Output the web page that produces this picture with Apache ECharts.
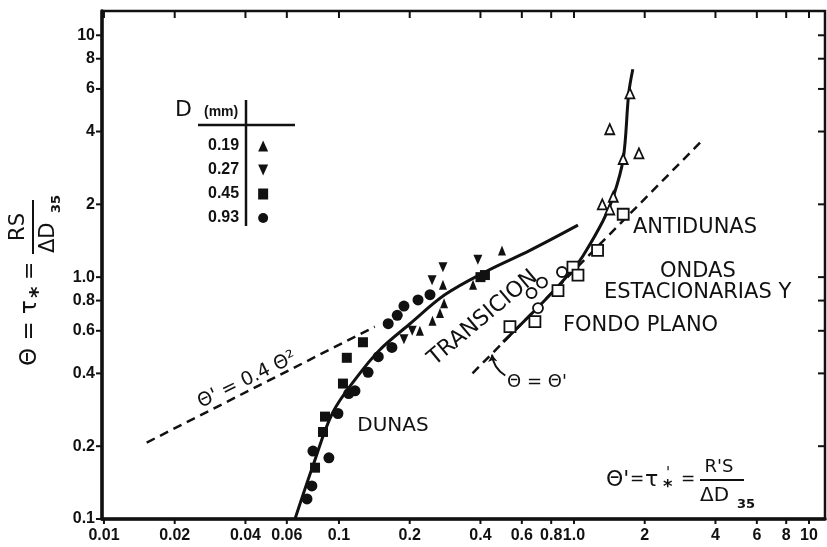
<!DOCTYPE html>
<html>
<head>
<meta charset="utf-8">
<script src="https://cdn.jsdelivr.net/npm/echarts@6/dist/echarts.min.js"></script>
<style>
  html, body { margin: 0; padding: 0; background: #fff; }
  #chart { width: 827px; height: 547px; }
</style>
</head>
<body>
<div id="chart"></div>
<script>
// Axis extents (log-log)
const X_MIN = 0.00981, X_MAX = 11.7;
const Y_MIN = 0.1, Y_MAX = 12.6;

// Tick values and their printed labels
const xTicks = [0.01, 0.02, 0.04, 0.06, 0.1, 0.2, 0.4, 0.6, 0.8, 1, 2, 4, 6, 8, 10];
const xTickLabels = ['0.01', '0.02', '0.04', '0.06', '0.1', '0.2', '0.4', '0.6', '0.8', '1.0', '2', '4', '6', '8', '10'];
const yTicks = [0.1, 0.2, 0.4, 0.6, 0.8, 1, 2, 4, 6, 8, 10];
const yTickLabels = ['0.1', '0.2', '0.4', '0.6', '0.8', '1.0', '2', '4', '6', '8', '10'];

// Measurements [Θ', Θ] by grain size D (mm), filled symbols
const d019 = [[0.221, 0.60], [0.25, 0.66], [0.269, 0.71], [0.28, 0.78], [0.277, 0.93], [0.372, 0.93], [0.494, 1.29]];
const d027 = [[0.189, 0.554], [0.205, 0.60], [0.249, 0.97], [0.277, 1.10], [0.39, 1.18]];
const d045 = [[0.0791, 0.163], [0.0855, 0.229], [0.0872, 0.265], [0.104, 0.363], [0.108, 0.464], [0.1265, 0.538], [0.40, 1.0], [0.418, 1.02]];
const d093 = [[0.0731, 0.121], [0.0767, 0.137], [0.0775, 0.191], [0.0906, 0.179], [0.099, 0.273], [0.11, 0.33], [0.117, 0.339], [0.133, 0.404], [0.147, 0.469], [0.162, 0.642], [0.168, 0.512], [0.177, 0.695], [0.189, 0.759], [0.217, 0.805], [0.244, 0.846]];

// Upper-regime measurements, open symbols
const openTri = [[1.42, 4.09], [1.89, 3.25], [1.47, 2.15], [1.32, 2.0], [1.42, 1.905], [1.73, 5.75], [1.62, 3.08]];
const openSq = [[0.534, 0.624], [0.682, 0.655], [0.855, 0.88], [0.99, 1.10], [1.04, 1.02], [1.26, 1.29], [1.62, 1.82]];
const openCirc = [[0.703, 0.745], [0.731, 0.95], [0.889, 1.05], [0.66, 0.86]];

// Curves and reference lines
const duneCurve = [[0.065, 0.1], [0.0775, 0.166], [0.094, 0.275], [0.119, 0.385], [0.149, 0.50], [0.2, 0.64], [0.283, 0.847], [0.426, 1.06], [0.65, 1.29], [1.04, 1.64]];
const antiduneCurve = [[0.5, 0.54], [0.75, 0.8], [0.99, 1.076], [1.09, 1.22], [1.33, 1.71], [1.47, 2.15], [1.62, 3.08], [1.71, 5.75], [1.78, 7.24]];
const lineEqual = [[0.37, 0.40], [3.54, 3.70]];
const lineSquare = [[0.0152, 0.207], [0.142, 0.624]];
const arrowEqual = [[0.51, 0.392], [0.448, 0.478]];

const INK = '#111';
const FONT = 'DejaVu Sans';
const TICK_FONT = 'Liberation Sans';

const chart = echarts.init(document.getElementById('chart'), null, { renderer: 'canvas' });

function filled(name, data, symbol, size) {
  return {
    name, type: 'scatter', data, symbol, symbolSize: size, z: 4,
    itemStyle: { color: INK, opacity: 1 }, silent: true
  };
}
function open(data, symbol, size) {
  return {
    type: 'scatter', data, symbol, symbolSize: size, z: 4,
    itemStyle: { color: '#fff', borderColor: INK, borderWidth: 1.8, opacity: 1 }, silent: true
  };
}
function curve(data, dashed, smooth) {
  return {
    type: 'line', data, showSymbol: false, smooth: smooth, z: 3, silent: true,
    lineStyle: { color: INK, width: dashed ? 2.5 : 3, type: dashed ? [9, 6] : 'solid' }
  };
}

const option = {
  backgroundColor: '#fff',
  animation: false,
  grid: { left: 102, right: 2, top: 11, bottom: 28, show: true, borderColor: INK, borderWidth: 2.5 },
  xAxis: {
    type: 'log', logBase: 10, min: X_MIN, max: X_MAX,
    axisLine: { show: true, onZero: false, lineStyle: { color: INK, width: 3.5 } },
    axisTick: { show: false }, axisLabel: { show: false }, splitLine: { show: false }
  },
  yAxis: {
    type: 'log', logBase: 10, min: Y_MIN, max: Y_MAX,
    axisLine: { show: true, onZero: false, lineStyle: { color: INK, width: 3.5 } },
    axisTick: { show: false }, axisLabel: { show: false }, splitLine: { show: false }
  },
  legend: {
    data: ['0.19', '0.27', '0.45', '0.93'],
    orient: 'vertical', left: 203, top: 133, align: 'right',
    itemWidth: 10, itemHeight: 11, itemGap: 8,
    selectedMode: false,
    textStyle: { color: INK, fontSize: 16, fontWeight: 'bold', fontFamily: TICK_FONT, padding: [0, 14, 0, 0] }
  },
  series: [
    curve(lineSquare, true, false),
    curve(lineEqual, true, false),
    curve(duneCurve, false, 0.35),
    curve(antiduneCurve, false, 0.35),
    filled('0.19', d019, 'triangle', [8, 10]),
    filled('0.27', d027, 'path://M0,0L10,0L5,11Z', [9, 10]),
    filled('0.45', d045, 'rect', 10),
    filled('0.93', d093, 'circle', 11),
    open(openTri, 'triangle', [9, 10]),
    open(openSq, 'rect', 11),
    open(openCirc, 'circle', 10),
    {
      type: 'lines', coordinateSystem: 'cartesian2d', silent: true, z: 5,
      data: [{ coords: arrowEqual }],
      symbol: ['none', 'arrow'], symbolSize: 7,
      lineStyle: { color: INK, width: 2, curveness: 0.25, opacity: 1 }
    },
    {
      // x-axis ticks (bottom outward, top inward) and labels
      type: 'custom', silent: true, z: 6,
      data: xTicks.map(v => [v, Y_MIN]),
      renderItem(params, api) {
        const v = api.value(0);
        const b = api.coord([v, Y_MIN]);
        const t = api.coord([v, Y_MAX]);
        return {
          type: 'group', children: [
            { type: 'line', shape: { x1: b[0], y1: b[1], x2: b[0], y2: b[1] + 5 }, style: { stroke: INK, lineWidth: 2 } },
            { type: 'line', shape: { x1: t[0], y1: t[1], x2: t[0], y2: t[1] + 7 }, style: { stroke: INK, lineWidth: 2 } },
            { type: 'text', x: b[0], y: b[1] + 17, style: { text: xTickLabels[params.dataIndex], fill: INK, fontSize: 16, fontWeight: 'bold', fontFamily: TICK_FONT, align: 'center', verticalAlign: 'middle' } }
          ]
        };
      }
    },
    {
      // y-axis ticks (left outward, right inward) and labels
      type: 'custom', silent: true, z: 6,
      data: yTicks.map(v => [X_MIN, v]),
      renderItem(params, api) {
        const v = api.value(1);
        const l = api.coord([X_MIN, v]);
        const r = api.coord([X_MAX, v]);
        return {
          type: 'group', children: [
            { type: 'line', shape: { x1: l[0] - 6, y1: l[1], x2: l[0], y2: l[1] }, style: { stroke: INK, lineWidth: 2 } },
            { type: 'line', shape: { x1: r[0] - 7, y1: r[1], x2: r[0], y2: r[1] }, style: { stroke: INK, lineWidth: 2 } },
            { type: 'text', x: l[0] - 7, y: l[1], style: { text: yTickLabels[params.dataIndex], fill: INK, fontSize: 16, fontWeight: 'bold', fontFamily: TICK_FONT, align: 'right', verticalAlign: 'middle' } }
          ]
        };
      }
    }
  ],
  graphic: [
    // grain-size table
    { type: 'text', x: 175, y: 110, style: { text: 'D', fill: INK, fontSize: 22, fontFamily: FONT, verticalAlign: 'middle' } },
    { type: 'text', x: 204, y: 112, style: { text: '(mm)', fill: INK, fontSize: 14, fontWeight: 'bold', fontFamily: TICK_FONT, verticalAlign: 'middle' } },
    { type: 'line', shape: { x1: 246, y1: 100, x2: 246, y2: 226 }, style: { stroke: INK, lineWidth: 2.5 } },
    { type: 'line', shape: { x1: 198, y1: 125, x2: 295, y2: 125 }, style: { stroke: INK, lineWidth: 2.5 } },

    // regime names
    { type: 'text', x: 393, y: 426, style: { text: 'DUNAS', fill: INK, fontSize: 20, fontFamily: FONT, align: 'center', verticalAlign: 'middle' } },
    { type: 'text', x: 633, y: 228, style: { text: 'ANTIDUNAS', fill: INK, fontSize: 21, fontFamily: FONT, verticalAlign: 'middle' } },
    { type: 'text', x: 660, y: 272, style: { text: 'ONDAS', fill: INK, fontSize: 21, fontFamily: FONT, verticalAlign: 'middle' } },
    { type: 'text', x: 604, y: 293, style: { text: 'ESTACIONARIAS Y', fill: INK, fontSize: 21, fontFamily: FONT, verticalAlign: 'middle' } },
    { type: 'text', x: 563, y: 326, style: { text: 'FONDO PLANO', fill: INK, fontSize: 21, fontFamily: FONT, verticalAlign: 'middle' } },
    { type: 'text', x: 483, y: 318, rotation: 40 * Math.PI / 180, style: { text: 'TRANSICION', fill: INK, fontSize: 22, fontFamily: FONT, align: 'center', verticalAlign: 'middle' } },

    // reference-line labels
    { type: 'text', x: 247, y: 380, rotation: 26 * Math.PI / 180, style: { text: "Θ' = 0.4 Θ²", fill: INK, fontSize: 19, fontFamily: FONT, align: 'center', verticalAlign: 'middle' } },
    { type: 'text', x: 537, y: 382, style: { text: "Θ = Θ'", fill: INK, fontSize: 18, fontFamily: FONT, align: 'center', verticalAlign: 'middle' } },

    // y-axis title: Θ = τ* = RS / ΔD35 (rotated)
    {
      type: 'group', x: 30, y: 366, rotation: Math.PI / 2,
      children: [
        { type: 'text', x: 0, y: 0, style: { text: 'Θ = τ', fill: INK, fontSize: 23, fontFamily: FONT, verticalAlign: 'middle' } },
        { type: 'text', x: 68, y: 9, style: { text: '*', fill: INK, fontSize: 22, fontWeight: 'bold', fontFamily: FONT, verticalAlign: 'middle' } },
        { type: 'text', x: 86, y: 0, style: { text: '=', fill: INK, fontSize: 22, fontFamily: FONT, verticalAlign: 'middle' } },
        { type: 'line', shape: { x1: 112, y1: 3, x2: 166, y2: 3 }, style: { stroke: INK, lineWidth: 2 } },
        { type: 'text', x: 139, y: -11, style: { text: 'RS', fill: INK, fontSize: 21, fontFamily: FONT, align: 'center', verticalAlign: 'middle' } },
        { type: 'text', x: 113, y: 19, style: { text: 'ΔD', fill: INK, fontSize: 21, fontFamily: FONT, verticalAlign: 'middle' } },
        { type: 'text', x: 153, y: 27, style: { text: '35', fill: INK, fontSize: 13, fontWeight: 'bold', fontFamily: FONT, verticalAlign: 'middle' } }
      ]
    },

    // bottom-right definition: Θ' = τ'* = R'S / ΔD35
    { type: 'text', x: 606, y: 480, style: { text: "Θ'", fill: INK, fontSize: 22, fontFamily: FONT, verticalAlign: 'middle' } },
    { type: 'text', x: 630, y: 480, style: { text: '=', fill: INK, fontSize: 17, fontFamily: FONT, verticalAlign: 'middle' } },
    { type: 'text', x: 645, y: 480, style: { text: 'τ', fill: INK, fontSize: 22, fontFamily: FONT, verticalAlign: 'middle' } },
    { type: 'text', x: 666, y: 474, style: { text: "'", fill: INK, fontSize: 15, fontFamily: FONT, verticalAlign: 'middle' } },
    { type: 'text', x: 663, y: 487, style: { text: '*', fill: INK, fontSize: 18, fontWeight: 'bold', fontFamily: FONT, verticalAlign: 'middle' } },
    { type: 'text', x: 681, y: 480, style: { text: '=', fill: INK, fontSize: 17, fontFamily: FONT, verticalAlign: 'middle' } },
    { type: 'line', shape: { x1: 700, y1: 480, x2: 744, y2: 480 }, style: { stroke: INK, lineWidth: 2 } },
    { type: 'text', x: 719, y: 467, style: { text: "R'S", fill: INK, fontSize: 18, fontFamily: FONT, align: 'center', verticalAlign: 'middle' } },
    { type: 'text', x: 700, y: 496, style: { text: 'ΔD', fill: INK, fontSize: 20, fontFamily: FONT, verticalAlign: 'middle' } },
    { type: 'text', x: 737, y: 505, style: { text: '35', fill: INK, fontSize: 13, fontWeight: 'bold', fontFamily: FONT, verticalAlign: 'middle' } }
  ]
};

chart.setOption(option);
</script>
</body>
</html>
